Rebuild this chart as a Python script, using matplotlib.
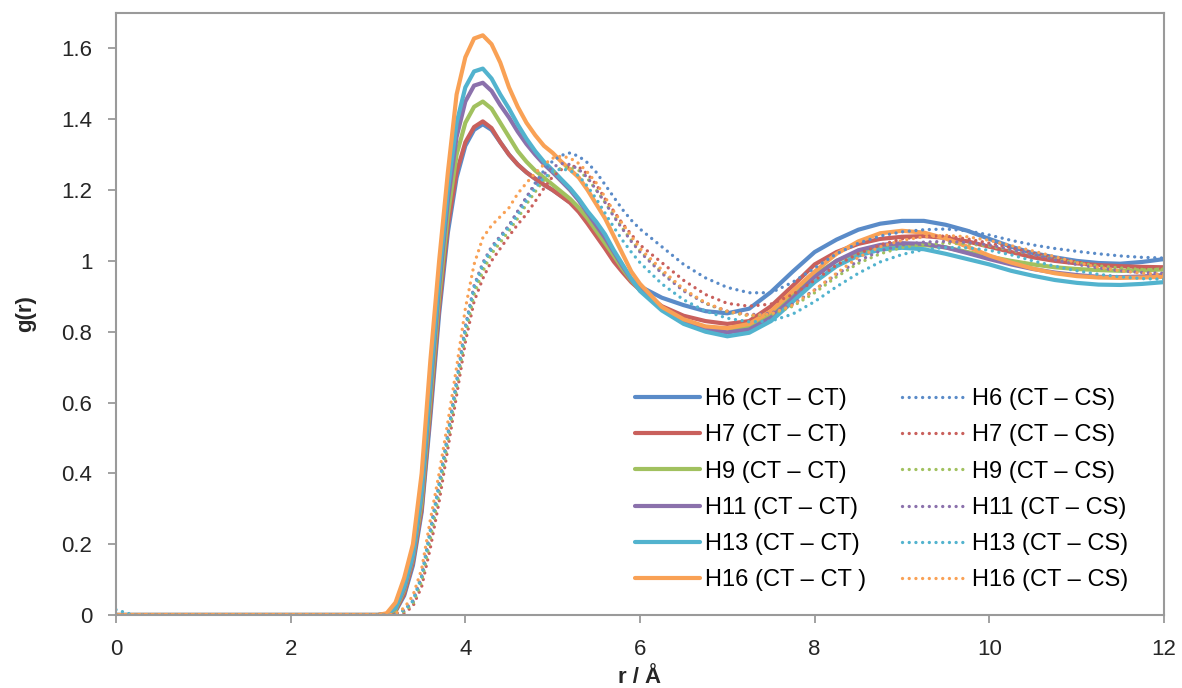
import matplotlib

matplotlib.use("Agg")

import matplotlib.pyplot as plt

# r grid (Angstrom) shared by all series
r = [0.0, 0.2, 3.0, 3.1, 3.2, 3.3, 3.4, 3.5, 3.6, 3.7, 3.8, 3.9, 4.0, 4.1, 4.2, 4.3, 4.4, 4.5,
     4.6, 4.7, 4.8, 4.9, 5.0, 5.1, 5.2, 5.3, 5.4, 5.5, 5.6, 5.7, 5.8, 5.9, 6.0,
     6.25, 6.5, 6.75, 7.0, 7.25, 7.5, 7.75, 8.0, 8.25, 8.5, 8.75, 9.0, 9.25, 9.5, 9.75,
     10.0, 10.25, 10.5, 10.75, 11.0, 11.25, 11.5, 11.75, 12.0]

# CT - CT
h6_ct = [0, 0, 0.0, 0.002, 0.01, 0.055, 0.14, 0.29, 0.56, 0.85, 1.08, 1.235, 1.325, 1.37, 1.386, 1.37, 1.335, 1.30,
         1.272, 1.25, 1.232, 1.215, 1.20, 1.183, 1.165, 1.14, 1.11, 1.075, 1.04, 1.003, 0.972, 0.948, 0.928,
         0.896, 0.875, 0.858, 0.852, 0.865, 0.912, 0.97, 1.025, 1.06, 1.088, 1.105, 1.113, 1.113, 1.102, 1.085,
         1.062, 1.04, 1.022, 1.01, 1.0, 0.994, 0.992, 0.997, 1.005]
h7_ct = [0, 0, 0.0, 0.002, 0.012, 0.06, 0.15, 0.30, 0.58, 0.87, 1.10, 1.25, 1.335, 1.378, 1.394, 1.375, 1.335, 1.30,
         1.272, 1.25, 1.232, 1.215, 1.20, 1.182, 1.164, 1.138, 1.105, 1.07, 1.035, 0.998, 0.968, 0.94, 0.918,
         0.872, 0.845, 0.83, 0.822, 0.83, 0.872, 0.93, 0.99, 1.025, 1.048, 1.062, 1.068, 1.07, 1.065, 1.055,
         1.04, 1.025, 1.01, 1.0, 0.993, 0.988, 0.985, 0.983, 0.982]
h9_ct = [0, 0, 0.0, 0.002, 0.015, 0.07, 0.16, 0.32, 0.61, 0.90, 1.13, 1.30, 1.39, 1.435, 1.45, 1.43, 1.39, 1.35,
         1.31, 1.28, 1.255, 1.235, 1.215, 1.195, 1.175, 1.15, 1.12, 1.085, 1.05, 1.015, 0.978, 0.945, 0.918,
         0.867, 0.832, 0.81, 0.802, 0.812, 0.85, 0.905, 0.96, 1.0, 1.025, 1.04, 1.045, 1.045, 1.038, 1.025,
         1.012, 1.0, 0.99, 0.982, 0.977, 0.974, 0.972, 0.973, 0.976]
h11_ct = [0, 0, 0.0, 0.003, 0.02, 0.075, 0.165, 0.34, 0.64, 0.93, 1.17, 1.35, 1.45, 1.495, 1.503, 1.48, 1.44, 1.405,
          1.365, 1.33, 1.30, 1.273, 1.25, 1.225, 1.20, 1.17, 1.135, 1.10, 1.065, 1.025, 0.985, 0.948, 0.918,
          0.865, 0.83, 0.808, 0.798, 0.806, 0.84, 0.895, 0.955, 1.0, 1.03, 1.045, 1.05, 1.048, 1.038, 1.022,
          1.005, 0.99, 0.977, 0.967, 0.96, 0.955, 0.954, 0.956, 0.96]
h13_ct = [0, 0, 0.0, 0.003, 0.02, 0.08, 0.17, 0.35, 0.66, 0.95, 1.20, 1.39, 1.49, 1.535, 1.543, 1.515, 1.47, 1.43,
          1.385, 1.345, 1.31, 1.28, 1.256, 1.23, 1.205, 1.175, 1.14, 1.11, 1.075, 1.03, 0.99, 0.95, 0.915,
          0.86, 0.822, 0.80, 0.787, 0.797, 0.83, 0.885, 0.94, 0.985, 1.015, 1.032, 1.037, 1.033, 1.02, 1.005,
          0.99, 0.972, 0.958, 0.946, 0.938, 0.933, 0.932, 0.935, 0.94]
h16_ct = [0, 0, 0.0, 0.005, 0.035, 0.105, 0.20, 0.40, 0.72, 1.0, 1.25, 1.47, 1.575, 1.628, 1.637, 1.612, 1.56, 1.49,
          1.435, 1.39, 1.355, 1.325, 1.305, 1.28, 1.258, 1.235, 1.20, 1.16, 1.12, 1.07, 1.02, 0.97, 0.935,
          0.87, 0.835, 0.815, 0.81, 0.822, 0.858, 0.915, 0.97, 1.02, 1.055, 1.078, 1.085, 1.08, 1.063, 1.04,
          1.015, 0.995, 0.978, 0.965, 0.957, 0.953, 0.952, 0.953, 0.955]

# CT - CS
h6_cs = [0, 0, 0.0, 0.0, 0.002, 0.01, 0.035, 0.10, 0.22, 0.35, 0.50, 0.65, 0.80, 0.915, 0.98, 1.03, 1.065, 1.10,
         1.14, 1.18, 1.22, 1.255, 1.282, 1.298, 1.305, 1.295, 1.277, 1.25, 1.215, 1.18, 1.145, 1.115, 1.09,
         1.04, 0.99, 0.952, 0.925, 0.91, 0.91, 0.94, 0.98, 1.02, 1.05, 1.07, 1.082, 1.088, 1.09, 1.085,
         1.073, 1.058, 1.045, 1.035, 1.027, 1.02, 1.014, 1.01, 1.008]
h7_cs = [0, 0, 0.0, 0.0, 0.0, 0.005, 0.025, 0.08, 0.19, 0.32, 0.47, 0.62, 0.77, 0.885, 0.95, 1.0, 1.035, 1.07,
         1.103, 1.132, 1.168, 1.205, 1.238, 1.258, 1.268, 1.265, 1.245, 1.215, 1.175, 1.14, 1.105, 1.075, 1.045,
         0.995, 0.945, 0.905, 0.88, 0.872, 0.878, 0.905, 0.945, 0.988, 1.02, 1.045, 1.062, 1.07, 1.07, 1.062,
         1.05, 1.037, 1.022, 1.008, 0.997, 0.988, 0.982, 0.98, 0.978]
h9_cs = [0, 0, 0.0, 0.0, 0.002, 0.01, 0.032, 0.095, 0.215, 0.345, 0.49, 0.64, 0.79, 0.905, 0.97, 1.02, 1.052, 1.085,
         1.12, 1.16, 1.195, 1.228, 1.25, 1.262, 1.265, 1.255, 1.232, 1.20, 1.165, 1.128, 1.092, 1.058, 1.028,
         0.968, 0.918, 0.88, 0.856, 0.845, 0.848, 0.872, 0.91, 0.955, 0.993, 1.02, 1.038, 1.047, 1.05, 1.048,
         1.042, 1.03, 1.018, 1.005, 0.995, 0.986, 0.98, 0.976, 0.975]
h11_cs = [0, 0, 0.0, 0.0, 0.003, 0.014, 0.04, 0.11, 0.24, 0.37, 0.51, 0.66, 0.815, 0.93, 0.995, 1.04, 1.07, 1.10,
          1.14, 1.18, 1.215, 1.245, 1.265, 1.275, 1.272, 1.258, 1.235, 1.20, 1.165, 1.125, 1.09, 1.055, 1.025,
          0.965, 0.915, 0.88, 0.858, 0.848, 0.852, 0.878, 0.918, 0.962, 1.0, 1.028, 1.045, 1.053, 1.055, 1.052,
          1.045, 1.032, 1.018, 1.003, 0.99, 0.98, 0.972, 0.967, 0.965]
h13_cs = [0.015, 0, 0.0, 0.0, 0.003, 0.014, 0.04, 0.11, 0.24, 0.37, 0.51, 0.66, 0.81, 0.925, 0.99, 1.035, 1.065, 1.095,
          1.13, 1.17, 1.205, 1.235, 1.252, 1.26, 1.255, 1.24, 1.21, 1.175, 1.135, 1.095, 1.058, 1.025, 0.995,
          0.935, 0.89, 0.858, 0.838, 0.828, 0.83, 0.85, 0.885, 0.927, 0.965, 0.997, 1.018, 1.032, 1.038, 1.037,
          1.03, 1.017, 1.0, 0.985, 0.972, 0.962, 0.955, 0.95, 0.948]
h16_cs = [0, 0, 0.0, 0.0, 0.004, 0.02, 0.055, 0.13, 0.27, 0.40, 0.545, 0.70, 0.865, 0.99, 1.065, 1.10, 1.125, 1.15,
          1.19, 1.22, 1.248, 1.272, 1.29, 1.296, 1.29, 1.275, 1.25, 1.22, 1.18, 1.14, 1.105, 1.07, 1.035,
          0.975, 0.92, 0.882, 0.858, 0.846, 0.85, 0.875, 0.918, 0.965, 1.01, 1.04, 1.058, 1.068, 1.072, 1.068,
          1.058, 1.043, 1.028, 1.012, 0.995, 0.982, 0.972, 0.965, 0.962]

ct_labels = ["H6 (CT \u2013 CT)", "H7 (CT \u2013 CT)", "H9 (CT \u2013 CT)",
             "H11 (CT \u2013 CT)", "H13 (CT \u2013 CT)", "H16 (CT \u2013 CT )"]
cs_labels = ["H6 (CT \u2013 CS)", "H7 (CT \u2013 CS)", "H9 (CT \u2013 CS)",
             "H11 (CT \u2013 CS)", "H13 (CT \u2013 CS)", "H16 (CT \u2013 CS)"]

x_ticks = [0, 2, 4, 6, 8, 10, 12]
x_tick_labels = ["0", "2", "4", "6", "8", "10", "12"]
y_ticks = [0, 0.2, 0.4, 0.6, 0.8, 1.0, 1.2, 1.4, 1.6]
y_tick_labels = ["0", "0.2", "0.4", "0.6", "0.8", "1", "1.2", "1.4", "1.6"]

colors = ["#5A8BC8", "#C9605C", "#A1C15F", "#8B71AC", "#52B3CE", "#F9A155"]
AXIS_GREY = "#9a9a9a"
TEXT = "#262626"

plt.rcParams["font.family"] = ["Liberation Sans", "DejaVu Sans"]

fig = plt.figure(figsize=(11.82, 6.88), dpi=100)
ax = fig.add_axes([116 / 1182, 1 - 615 / 688, 1048 / 1182, 602 / 688])

ct_series = [h6_ct, h7_ct, h9_ct, h11_ct, h13_ct, h16_ct]
cs_series = [h6_cs, h7_cs, h9_cs, h11_cs, h13_cs, h16_cs]

handles = []
for values, color, label in zip(ct_series, colors, ct_labels):
    line, = ax.plot(r, values, color=color, linewidth=3.0, label=label,
                    solid_capstyle="round", solid_joinstyle="round")
    handles.append(line)
for values, color, label in zip(cs_series, colors, cs_labels):
    line, = ax.plot(r, values, color=color, linewidth=2.4, label=label,
                    linestyle=(0, (0.01, 2.0)), dash_capstyle="round")
    handles.append(line)

ax.set_xlim(0, 12)
ax.set_ylim(0, 1.7)
ax.set_xticks(x_ticks)
ax.set_xticklabels(x_tick_labels)
ax.set_yticks(y_ticks)
ax.set_yticklabels(y_tick_labels)

for spine in ax.spines.values():
    spine.set_color(AXIS_GREY)
    spine.set_linewidth(1.5)

ax.tick_params(axis="both", direction="out", length=6, width=1.3, color=AXIS_GREY,
               labelsize=16, labelcolor=TEXT)
ax.tick_params(axis="y", pad=11)
ax.tick_params(axis="x", pad=11)

ax.set_xlabel("r / \u00c5", fontsize=16, fontweight="bold", color=TEXT, labelpad=5)
ax.set_ylabel("g(r)", fontsize=16, fontweight="bold", color=TEXT, labelpad=18)

ax.legend(handles=handles, ncol=2, loc="lower right", bbox_to_anchor=(0.975, 0.024),
          frameon=False, fontsize=17, handlelength=2.75, handletextpad=0.2,
          columnspacing=1.55, labelspacing=0.6, borderaxespad=0)

fig.savefig("out.png", dpi=100)
plt.close(fig)
